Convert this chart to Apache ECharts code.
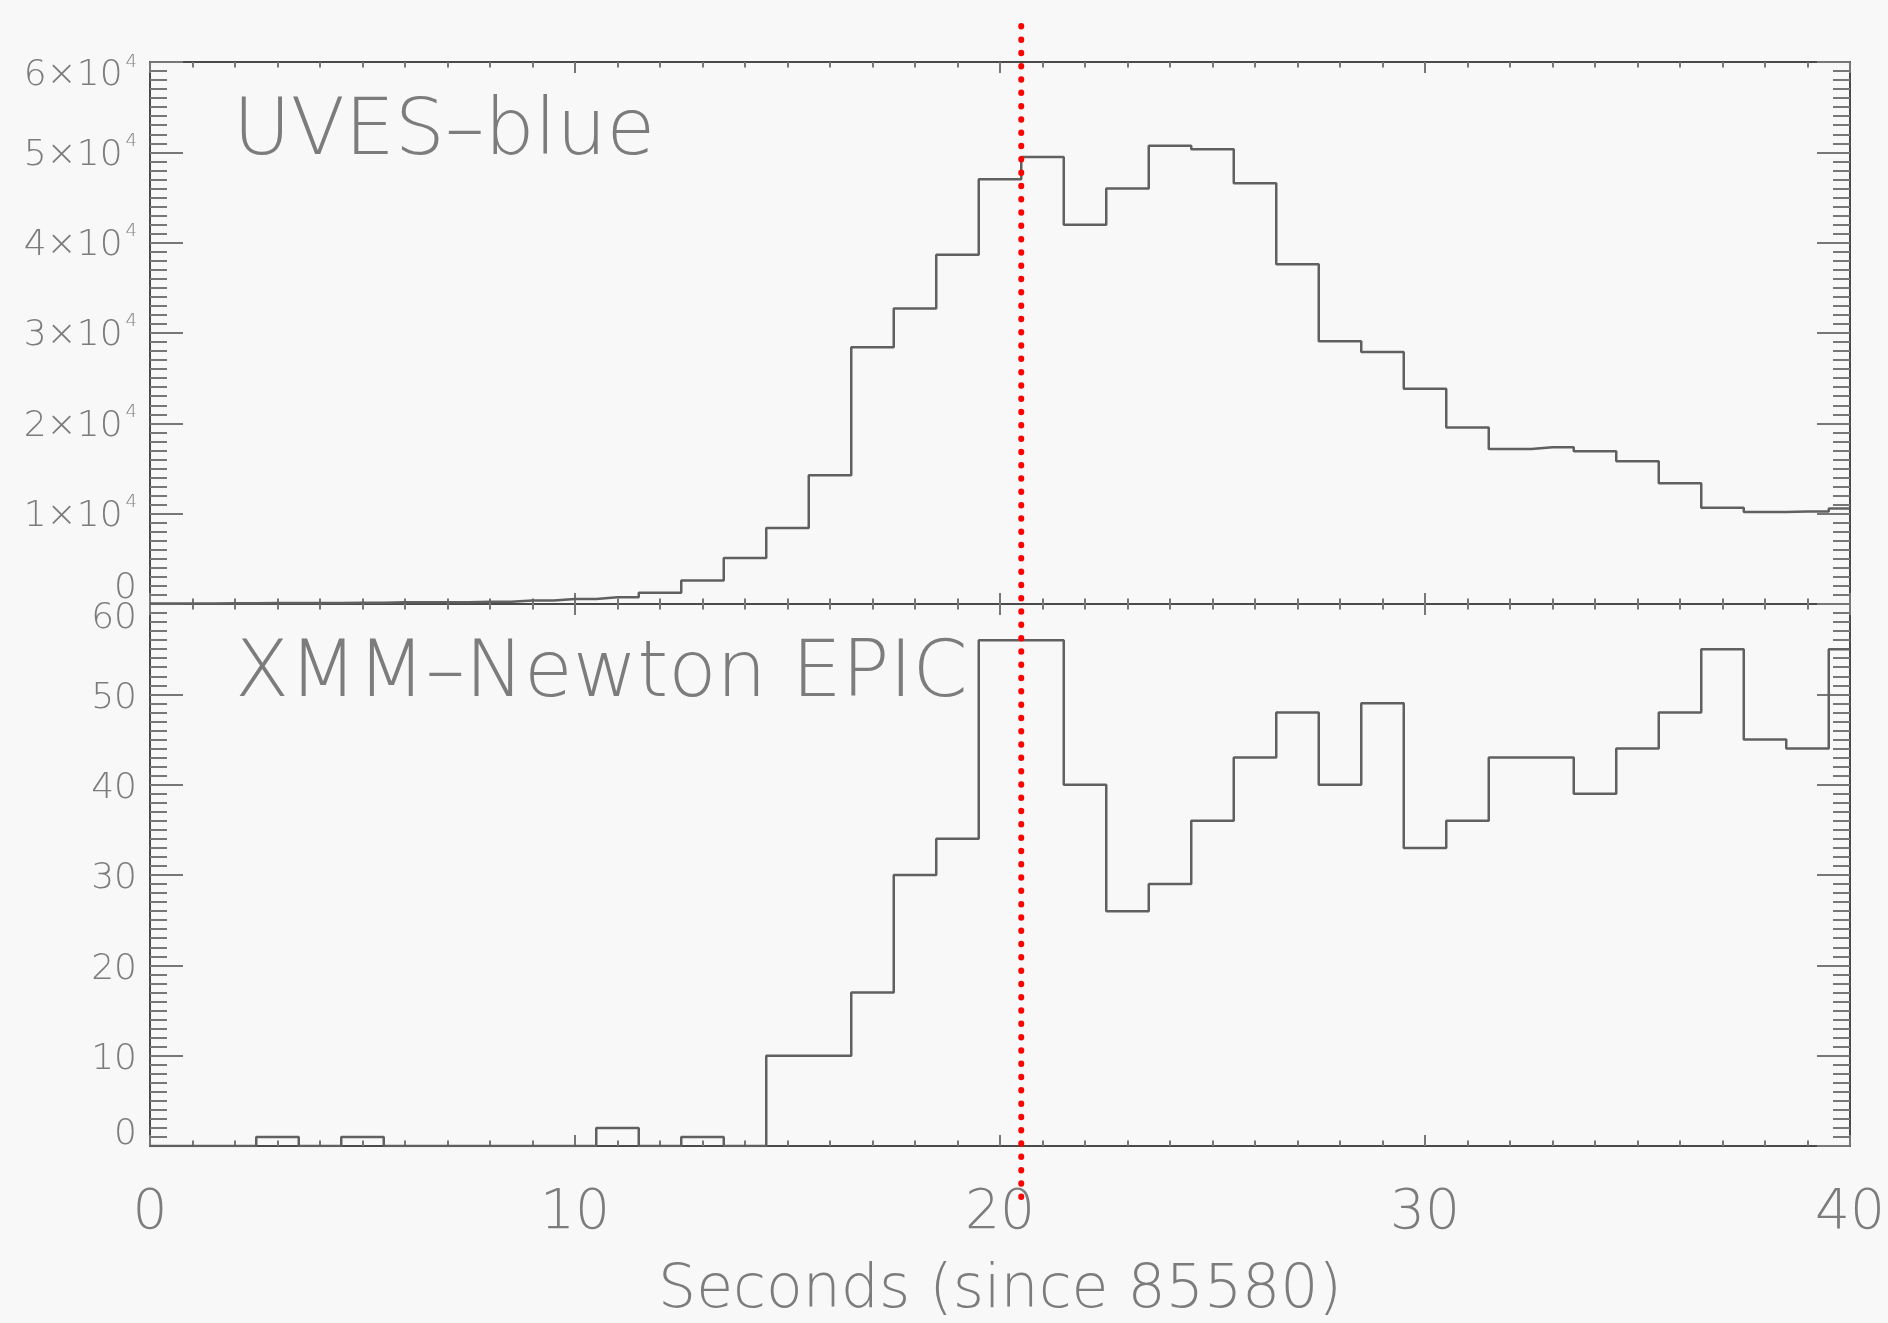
<!DOCTYPE html>
<html>
<head>
<meta charset="utf-8">
<title>UVES-blue / XMM-Newton EPIC light curves</title>
<script src="https://cdn.jsdelivr.net/npm/echarts@6/dist/echarts.min.js"></script>
<style>
  html, body { margin: 0; padding: 0; background: #f8f8f8; }
  #chart { width: 1888px; height: 1323px; }
</style>
</head>
<body>
<div id="chart"></div>
<script>
// time bins, seconds since 85580 (1 s bins, centred on the whole second)
const seconds = [0, 1, 2, 3, 4, 5, 6, 7, 8, 9, 10, 11, 12, 13, 14, 15, 16, 17, 18, 19, 20,
  21, 22, 23, 24, 25, 26, 27, 28, 29, 30, 31, 32, 33, 34, 35, 36, 37, 38, 39, 40];

// UVES blue arm counts per bin
const uvesBlue = [50, 60, 80, 100, 120, 150, 180, 200, 250, 380, 550, 740, 1250, 2600, 5090,
  8420, 14240, 28420, 32700, 38660, 47020, 49470, 41990, 46010, 50740, 50350, 46580,
  37610, 29080, 27890, 23830, 19530, 17170, 17350, 16910, 15810, 13360, 10650, 10180,
  10250, 10570];

// XMM-Newton EPIC counts per bin
const xmmEpic = [0, 0, 0, 1, 0, 1, 0, 0, 0, 0, 0, 2, 0, 1, 0, 10, 10, 17, 30, 34, 56, 56,
  40, 26, 29, 36, 43, 48, 40, 49, 33, 36, 43, 43, 39, 44, 48, 55, 45, 44, 55];

// marker of the flare onset (red dotted line)
const flareTime = [20.5, 20.5];
const flareSpan = [0, 1];

const uvesExponent = 4;
const panelNames = ['UVES\u2013blue', 'XMM\u2013Newton EPIC'];
const xName = 'Seconds (since 85580)';

const chart = echarts.init(document.getElementById('chart'));

const textGrey = '#7c7c7c';
const axisGrey = '#4a4a4a';
const tickGrey = '#777';
const font = "'DejaVu Sans', sans-serif";
const thin = 200;

// one x axis of a panel; ticks always point into the plot
function xAxisFor(grid, position, withLabels) {
  return {
    type: 'value',
    gridIndex: grid,
    position: position,
    min: 0,
    max: 40,
    interval: 10,
    axisLine: { show: true, onZero: false, lineStyle: { color: axisGrey, width: 2 } },
    axisTick: { show: true, inside: true, length: 11, lineStyle: { color: tickGrey, width: 2 } },
    minorTick: { show: true, splitNumber: 10, length: 5.5, lineStyle: { color: tickGrey, width: 2 } },
    splitLine: { show: false },
    axisLabel: {
      show: withLabels,
      margin: 40,
      showMinLabel: true,
      showMaxLabel: true,
      color: textGrey,
      fontFamily: font,
      fontWeight: thin,
      fontSize: 55
    },
    name: withLabels ? xName : '',
    nameLocation: 'middle',
    nameGap: 115,
    nameTextStyle: { color: textGrey, fontFamily: font, fontWeight: thin, fontSize: 60 }
  };
}

function yAxisFor(grid, position, max, interval, formatter, rich) {
  return {
    type: 'value',
    gridIndex: grid,
    position: position,
    min: 0,
    max: max,
    interval: interval,
    axisLine: { show: true, onZero: false, lineStyle: { color: axisGrey, width: 2 } },
    axisTick: { show: true, inside: true, length: 33, lineStyle: { color: tickGrey, width: 2 } },
    minorTick: { show: true, splitNumber: 10, length: 17, lineStyle: { color: tickGrey, width: 2 } },
    splitLine: { show: false },
    axisLabel: {
      show: formatter !== null,
      margin: 13,
      showMinLabel: true,
      showMaxLabel: true,
      color: textGrey,
      fontFamily: font,
      fontWeight: thin,
      fontSize: 36,
      formatter: formatter || undefined,
      rich: rich || undefined
    }
  };
}

const supStyle = { fontFamily: font, fontWeight: thin, fontSize: 18, color: textGrey, verticalAlign: 'middle' };
const labStyle = { fontFamily: font, fontWeight: thin, fontSize: 36, color: textGrey, verticalAlign: 'middle' };

const uvesRich = {
  m: Object.assign({}, labStyle, { padding: [6, 0, 0, 0] }),
  s: Object.assign({}, supStyle, { padding: [0, 0, 23, 3] }),
  mt: Object.assign({}, labStyle, { padding: [28, 0, 0, 0] }),
  st: Object.assign({}, supStyle, { padding: [0, 0, 0, 3] }),
  z: Object.assign({}, labStyle, { padding: [0, 0, 30, 0] })
};

function uvesLabel(v) {
  if (v === 0) return '{z|0}';
  const m = v / Math.pow(10, uvesExponent);
  if (v === 60000) return '{mt|' + m + '\u00d710}{st|' + uvesExponent + '}';
  return '{m|' + m + '\u00d710}{s|' + uvesExponent + '}';
}

const xmmRich = {
  n: Object.assign({}, labStyle, { padding: [8, 0, 0, 0] }),
  t: Object.assign({}, labStyle, { padding: [30, 0, 0, 0] }),
  z: Object.assign({}, labStyle, { padding: [0, 0, 23, 0] })
};

function xmmLabel(v) {
  if (v === 60) return '{t|60}';
  if (v === 0) return '{z|0}';
  return '{n|' + v + '}';
}

const titleStyle = { color: '#7c7c7c', fontFamily: font, fontSize: 79, fontWeight: thin };

const option = {
  backgroundColor: '#f8f8f8',
  animation: false,
  title: [
    { text: panelNames[0], left: 233, top: 94, textStyle: titleStyle, padding: 0 },
    { text: panelNames[1], left: 235, top: 636, textStyle: titleStyle, padding: 0 }
  ],
  grid: [
    { left: 150, right: 38, top: 62, height: 542, outerBoundsMode: 'none' },
    { left: 150, right: 38, top: 604, height: 542, outerBoundsMode: 'none' },
    { left: 150, right: 38, top: 23, height: 1174, outerBoundsMode: 'none' }
  ],
  xAxis: [
    xAxisFor(0, 'bottom', false),
    xAxisFor(0, 'top', false),
    xAxisFor(1, 'bottom', true),
    xAxisFor(1, 'top', false),
    { type: 'value', gridIndex: 2, min: 0, max: 40, show: false }
  ],
  yAxis: [
    yAxisFor(0, 'left', 60000, 10000, uvesLabel, uvesRich),
    yAxisFor(0, 'right', 60000, 10000, null, null),
    yAxisFor(1, 'left', 60, 10, xmmLabel, xmmRich),
    yAxisFor(1, 'right', 60, 10, null, null),
    { type: 'value', gridIndex: 2, min: 0, max: 1, show: false }
  ],
  series: [
    {
      name: panelNames[0],
      type: 'line',
      xAxisIndex: 0,
      yAxisIndex: 0,
      step: 'middle',
      showSymbol: false,
      lineStyle: { color: '#606060', width: 2.5 },
      data: seconds.map((s, i) => [s, uvesBlue[i]]),
      z: 3
    },
    {
      name: panelNames[1],
      type: 'line',
      xAxisIndex: 2,
      yAxisIndex: 2,
      step: 'middle',
      showSymbol: false,
      lineStyle: { color: '#606060', width: 2.5 },
      data: seconds.map((s, i) => [s, xmmEpic[i]]),
      z: 3
    },
    {
      name: 'flare',
      type: 'line',
      xAxisIndex: 4,
      yAxisIndex: 4,
      showSymbol: false,
      clip: false,
      silent: true,
      lineStyle: { color: '#ff0000', width: 6, type: [0.5, 12.8], cap: 'round' },
      data: flareTime.map((t, i) => [t, flareSpan[i]]),
      z: 10
    }
  ]
};

option && chart.setOption(option);
</script>
</body>
</html>
